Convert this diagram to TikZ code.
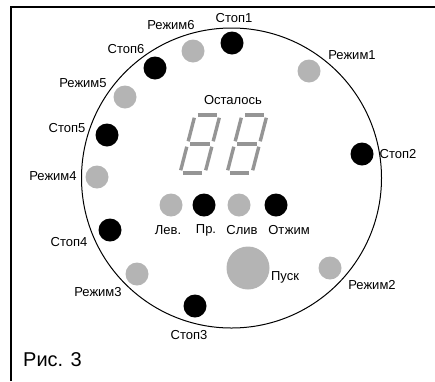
\documentclass[tikz,border=0pt]{standalone}
\usepackage{fontspec}
\setmainfont{Liberation Sans}
\usepackage{xcolor}
\definecolor{stopc}{HTML}{000000}
\definecolor{modec}{HTML}{B4B4B4}
\definecolor{segc}{HTML}{959595}

\tikzset{
  lampstop/.style={circle,fill=stopc,minimum size=23pt,inner sep=0pt},
  lampmode/.style={circle,fill=modec,minimum size=23pt,inner sep=0pt},
  lbl/.style={font=\fontsize{13}{15}\selectfont,inner sep=0pt},
  seg/.style={draw=segc,line width=3.4pt,shorten <=2.8pt,shorten >=2.8pt}
}

\begin{document}
\begin{tikzpicture}[x=1pt,y=-1pt]
        \useasboundingbox (0,0) rectangle (435,381);
        \draw[line width=2.6pt] (11,381) -- (11,7) -- (435,7);
        \node[circle,draw,line width=1pt,minimum size=300pt,inner sep=0pt] (dial) at (231.5,178) {};
        % stop positions
        \foreach \n/\x/\y/\lx/\ly in {1/232/43/234/18,2/362/154/398/154,3/195/306/189/335,
                                     4/110/230/69/242,5/107/135/67/128,6/155/68/126/49} {
          \node[lampstop] (stop\n) at (\x,\y) {};
          \node[lbl] (stoplab\n) at (\lx,\ly) {Стоп\n};
        }
        % wash modes
        \foreach \n/\x/\y/\lx/\ly in {1/309/71/352/55,2/330/268/372/285,3/137/274/98/292,
                                     4/97/177/53/176,5/125/97/83/83,6/193/51/171/25} {
          \node[lampmode] (mode\n) at (\x,\y) {};
          \node[lbl] (modelab\n) at (\lx,\ly) {Режим\n};
        }
        % row of indicators
        \foreach \nm/\st/\x/\lx/\lab in {lev/lampmode/171/168/Лев.,pr/lampstop/204/206/Пр.,
                                        sliv/lampmode/239/242/Слив,otzhim/lampstop/276/289/Отжим} {
          \node[\st] (\nm) at (\x,205) {};
          \node[lbl] (\nm lab) at (\lx,230) {\lab};
        }
        \node[circle,fill=modec,minimum size=43pt,inner sep=0pt] (start) at (248,268) {};
        \node[lbl] (startlab) at (285,277) {Пуск};
        \node[lbl] (remain) at (233,100) {Осталось};
        % two seven-segment digits
        \foreach \d in {0,47} {
          \draw[seg] (195+\d,115) -- (220+\d,115);
          \draw[seg] (187.5+\d,144) -- (212.5+\d,144);
          \draw[seg] (180+\d,173) -- (205+\d,173);
          \draw[seg] (195+\d,115) -- (187.5+\d,144);
          \draw[seg] (187.5+\d,144) -- (180+\d,173);
          \draw[seg] (220+\d,115) -- (212.5+\d,144);
          \draw[seg] (212.5+\d,144) -- (205+\d,173);
        }
        \node[anchor=west,font=\fontsize{20}{24}\selectfont,inner sep=0pt] (caption) at (23,360) {Рис. 3};
      \end{tikzpicture}
\end{document}
